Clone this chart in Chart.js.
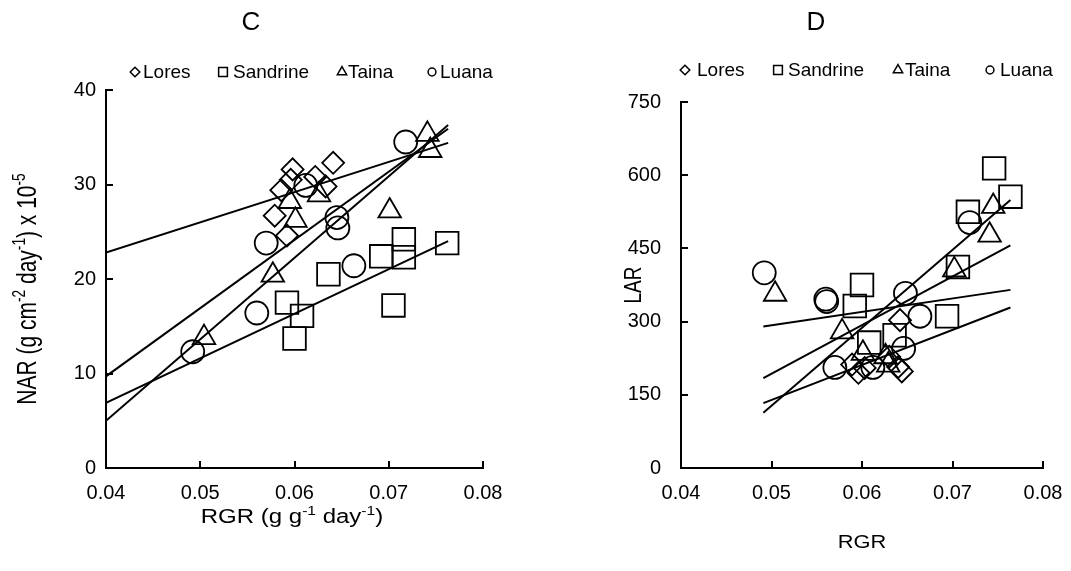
<!DOCTYPE html>
<html>
<head>
<meta charset="utf-8">
<script src="https://cdn.jsdelivr.net/npm/chart.js@4.4.1/dist/chart.umd.min.js"></script>
<style>
  body { margin: 0; background: #fff; }
  canvas { position: absolute; top: 0; }
  #nar { left: 0; }
  #lar { left: 535px; }
</style>
</head>
<body>
<canvas id="nar" width="535" height="571"></canvas>
<canvas id="lar" width="536" height="571"></canvas>
<script>
// cultivars in legend order
const cultivars = ['Lores', 'Sandrine', 'Taina', 'Luana'];
const markers = ['rectRot', 'rect', 'triangle', 'circle'];

// C: relative growth rate vs net assimilation rate
const loresRgrC = [0.0598, 0.0596, 0.0586, 0.0579, 0.0592, 0.0622, 0.0633, 0.0641];
const loresNar = [31.6, 30.5, 29.4, 26.7, 24.6, 30.8, 29.8, 32.3];
const sandrineRgrC = [0.0592, 0.0600, 0.0608, 0.0636, 0.0692, 0.0705, 0.0716, 0.0716, 0.0762];
const sandrineNar = [17.5, 13.7, 16.1, 20.5, 22.4, 17.2, 24.2, 22.3, 23.8];
const tainaRgrC = [0.0504, 0.0577, 0.0595, 0.0601, 0.0626, 0.0701, 0.0741, 0.0744];
const tainaNar = [13.8, 20.4, 28.2, 26.2, 28.9, 27.2, 35.3, 33.6];
const luanaRgrC = [0.0492, 0.0560, 0.0570, 0.0612, 0.0645, 0.0646, 0.0663, 0.0718];
const luanaNar = [12.3, 16.4, 23.8, 29.9, 26.5, 25.4, 21.4, 34.5];

// fitted lines for C (ends of each line)
const trendRgrC = [0.04, 0.0763];
const loresFitC = [22.8, 34.4];
const sandrineFitC = [6.9, 24.0];
const tainaFitC = [5.0, 36.3];
const luanaFitC = [9.7, 35.9];

// D: relative growth rate vs leaf area ratio
const loresRgrD = [0.0589, 0.0596, 0.0603, 0.0630, 0.0640, 0.0644, 0.0642];
const loresLar = [212, 195, 205, 228, 207, 198, 303];
const sandrineRgrD = [0.0592, 0.0600, 0.0608, 0.0636, 0.0694, 0.0706, 0.0717, 0.0746, 0.0764];
const sandrineLar = [332, 375, 257, 272, 311, 412, 525, 614, 556];
const tainaRgrD = [0.0504, 0.0578, 0.0601, 0.0626, 0.0629, 0.0702, 0.0741, 0.0745];
const tainaLar = [356, 279, 235, 228, 211, 406, 477, 536];
const luanaRgrD = [0.0492, 0.0560, 0.0561, 0.0570, 0.0612, 0.0646, 0.0648, 0.0664, 0.0719];
const luanaLar = [400, 346, 341, 206, 206, 245, 358, 311, 503];

const trendRgrD = [0.0491, 0.0764];
const loresFitD = [133, 329];
const sandrineFitD = [113, 549];
const tainaFitD = [184, 456];
const luanaFitD = [290, 365];

// axis ticks
const rgrTicks = [0.04, 0.05, 0.06, 0.07, 0.08];
const narTicks = [0, 10, 20, 30, 40];
const larTicks = [0, 150, 300, 450, 600, 750];

const FONT = "'Liberation Sans', Arial, sans-serif";

function pairs(xs, ys) {
    return xs.map((x, i) => ({ x: x, y: ys[i] }));
}

function buildDatasets(groups, fits, fitX) {
    const sets = [];
    groups.forEach((g, i) => {
        sets.push({
            label: cultivars[i],
            data: pairs(g[0], g[1]),
            pointStyle: markers[i],
            pointRadius: markers[i] === 'rect' ? 16 : markers[i] === 'triangle' ? 13 : markers[i] === 'circle' ? 11.5 : 11,
            pointBorderWidth: 1.8,
            pointBorderColor: '#000',
            pointBackgroundColor: 'rgba(0,0,0,0)',
            showLine: false
        });
    });
    fits.forEach((f, i) => {
        sets.push({
            label: cultivars[i] + ' fit',
            data: pairs(fitX, f),
            showLine: true,
            borderColor: '#000',
            borderWidth: 2,
            pointRadius: 0,
            fill: false
        });
    });
    return sets;
}

// text with superscript runs, centred on x, y = baseline
function richText(ctx, parts, x, y, size, stretch, rotate) {
    const supSize = size * 0.65;
    const rise = size * 0.4;
    ctx.save();
    let total = 0;
    const widths = parts.map(p => {
        ctx.font = (p[1] ? supSize : size) + 'px ' + FONT;
        const w = ctx.measureText(p[0]).width;
        total += w;
        return w;
    });
    ctx.translate(x, y);
    if (rotate) {
        ctx.rotate(-Math.PI / 2);
        ctx.scale(1, stretch);
    } else {
        ctx.scale(stretch, 1);
    }
    ctx.fillStyle = '#000';
    ctx.textAlign = 'left';
    ctx.textBaseline = 'alphabetic';
    let cx = -total / 2;
    parts.forEach((p, i) => {
        ctx.font = (p[1] ? supSize : size) + 'px ' + FONT;
        ctx.fillText(p[0], cx, p[1] ? -rise : 0);
        cx += widths[i];
    });
    ctx.restore();
}

function legendMarker(ctx, style, x, y) {
    const r = { rectRot: 4.8, rect: 6.2, triangle: 5.4, circle: 3.9 }[style];
    ctx.save();
    ctx.strokeStyle = '#000';
    ctx.fillStyle = 'rgba(0,0,0,0)';
    ctx.lineWidth = 1.5;
    Chart.helpers.drawPoint(ctx, { pointStyle: style, radius: r, borderWidth: 1.5, rotation: 0 }, x, y);
    ctx.restore();
}

// draws ticks (pointing inward), panel letter, legend and axis titles
const decorations = {
    id: 'decorations',
    afterDraw(chart, args, opts) {
        const ctx = chart.ctx;
        const xs = chart.scales.x, ys = chart.scales.y;
        ctx.save();
        ctx.strokeStyle = '#000';
        ctx.lineWidth = 2;
        ctx.beginPath();
        xs.ticks.forEach((t, i) => {
            const px = Math.round(xs.getPixelForTick(i));
            ctx.moveTo(px, xs.top);
            ctx.lineTo(px, xs.top - 7);
        });
        ys.ticks.forEach((t, i) => {
            const py = Math.round(ys.getPixelForTick(i));
            ctx.moveTo(ys.right, py);
            ctx.lineTo(ys.right + 7, py);
        });
        ctx.stroke();
        ctx.restore();

        ctx.save();
        ctx.fillStyle = '#000';
        ctx.font = '26px ' + FONT;
        ctx.textAlign = 'center';
        ctx.textBaseline = 'middle';
        ctx.fillText(opts.letter, opts.letterX, 23);

        ctx.font = '19px ' + FONT;
        ctx.textAlign = 'left';
        opts.legend.forEach((item, i) => {
            legendMarker(ctx, markers[i], item[0], opts.legendY);
            ctx.fillStyle = '#000';
            ctx.fillText(cultivars[i], item[1], opts.legendY + 1);
        });
        ctx.restore();

        const xt = opts.xTitle, yt = opts.yTitle;
        richText(ctx, xt.parts, xt.x, xt.y, xt.size, xt.stretch, false);
        richText(ctx, yt.parts, yt.x, yt.y, yt.size, yt.stretch, true);
    }
};

function makeChart(id, cfg) {
    const tickFont = { family: FONT, size: 20 };
    return new Chart(document.getElementById(id), {
        type: 'scatter',
        data: { datasets: cfg.datasets },
        plugins: [decorations],
        options: {
            responsive: false,
            animation: false,
            devicePixelRatio: 1,
            layout: { padding: cfg.padding },
            plugins: {
                legend: { display: false },
                tooltip: { enabled: false },
                decorations: cfg.deco
            },
            scales: {
                x: {
                    type: 'linear',
                    min: 0.04,
                    max: 0.08,
                    afterBuildTicks: s => { s.ticks = rgrTicks.map(v => ({ value: v })); },
                    ticks: { color: '#000', font: tickFont, padding: 13, maxRotation: 0,
                             callback: v => v.toFixed(2) },
                    grid: { display: false, drawTicks: false },
                    border: { display: true, color: '#000', width: 2 },
                    afterFit: s => {
                        s.height = 40;
                        s.paddingLeft = s.paddingRight = s.paddingTop = s.paddingBottom = 0;
                    }
                },
                y: {
                    type: 'linear',
                    min: cfg.yTicks[0],
                    max: cfg.yTicks[cfg.yTicks.length - 1],
                    afterBuildTicks: s => { s.ticks = cfg.yTicks.map(v => ({ value: v })); },
                    ticks: { color: '#000', font: tickFont, padding: cfg.yPad },
                    grid: { display: false, drawTicks: false },
                    border: { display: true, color: '#000', width: 2 },
                    afterFit: s => {
                        s.width = 60;
                        s.paddingLeft = s.paddingRight = s.paddingTop = s.paddingBottom = 0;
                    }
                }
            }
        }
    });
}

makeChart('nar', {
    datasets: buildDatasets(
        [[loresRgrC, loresNar], [sandrineRgrC, sandrineNar], [tainaRgrC, tainaNar], [luanaRgrC, luanaNar]],
        [loresFitC, sandrineFitC, tainaFitC, luanaFitC], trendRgrC),
    padding: { left: 46, right: 52, top: 90, bottom: 63 },
    yTicks: narTicks,
    yPad: 10,
    deco: {
        letter: 'C', letterX: 251,
        legendY: 72,
        legend: [[135, 143], [223, 233], [342, 348], [432, 440]],
        xTitle: { parts: [['RGR (g g', false], ['-1', true], [' day', false], ['-1', true], [')', false]],
                  x: 292, y: 523, size: 20, stretch: 1.2 },
        yTitle: { parts: [['NAR (g cm', false], ['-2', true], [' day', false], ['-1', true], [') x 10', false], ['-5', true]],
                  x: 36, y: 289, size: 21, stretch: 1.35 }
    }
});

makeChart('lar', {
    datasets: buildDatasets(
        [[loresRgrD, loresLar], [sandrineRgrD, sandrineLar], [tainaRgrD, tainaLar], [luanaRgrD, luanaLar]],
        [loresFitD, sandrineFitD, tainaFitD, luanaFitD], trendRgrD),
    padding: { left: 86, right: 28, top: 102, bottom: 63 },
    yTicks: larTicks,
    yPad: 20,
    deco: {
        letter: 'D', letterX: 281,
        legendY: 70,
        legend: [[150, 162], [243, 253], [363, 370], [455, 465]],
        xTitle: { parts: [['RGR', false]], x: 327, y: 548, size: 19, stretch: 1.15 },
        yTitle: { parts: [['LAR', false]], x: 106, y: 285, size: 19, stretch: 1.3 }
    }
});
</script>
</body>
</html>
